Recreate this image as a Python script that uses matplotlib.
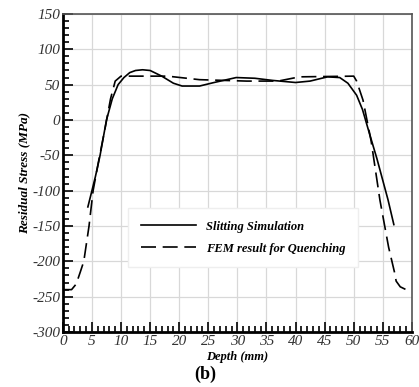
import matplotlib
matplotlib.use("Agg")
import matplotlib.pyplot as plt
from matplotlib.ticker import MultipleLocator

plt.rcParams["axes.unicode_minus"] = False

# Slitting simulation (solid)
slit_x = [4.3, 5.0, 5.6, 6.4, 7.5, 8.5, 9.5, 10.5, 11.5, 12.5, 13.7, 15.0, 17.0, 19.0,
          20.5, 23.5, 26.0, 29.8, 33.0, 36.0, 40.0, 42.5, 45.5, 47.6, 49.0, 50.5,
          51.5, 52.7, 54.0, 55.9, 56.9]
slit_y = [-123, -100, -80, -50, 0, 30, 50, 60, 67, 70, 71, 70, 62, 52,
          48, 48, 53, 60, 59, 56, 53, 55, 61, 60, 52, 35,
          15, -19, -55, -113, -148]

# FEM result for quenching (dashed)
fem_x = [0.0, 1.5, 2.3, 3.0, 3.6, 4.5, 5.2, 6.2, 7.3, 8.2, 9.0, 10.0, 18.0, 23.5,
         31.6, 37.0, 40.7, 50.0, 50.5, 51.6, 53.0, 54.5, 56.0, 57.0, 57.3, 58.0,
         59.0, 60.0]
fem_y = [-240, -240, -232, -215, -200, -150, -100, -56, -10, 30, 55, 62, 62, 57,
         55, 55, 61, 62, 55, 28, -30, -113, -180, -215, -228, -236,
         -240, -241]

serif = ["Liberation Serif", "DejaVu Serif"]

fig = plt.figure(figsize=(4.19, 3.87), dpi=100)
ax = fig.add_axes([0.150, 0.142, 0.833, 0.822])

ax.plot(slit_x, slit_y, color="black", lw=1.2, label="Slitting Simulation")
ax.plot(fem_x, fem_y, color="black", lw=1.2, ls=(0, (9, 4)), label="FEM result for Quenching")

ax.set_xlim(0, 60)
ax.set_ylim(-300, 150)
ax.xaxis.set_major_locator(MultipleLocator(5))
ax.xaxis.set_minor_locator(MultipleLocator(1))
ax.yaxis.set_major_locator(MultipleLocator(50))
ax.yaxis.set_minor_locator(MultipleLocator(10))
ax.grid(True, which="major", color="#d8d8d8", lw=0.9)
ax.set_axisbelow(True)

ax.tick_params(which="both", direction="in", top=False, right=False, width=1.2)
ax.tick_params(which="major", length=7, pad=2)
ax.tick_params(which="minor", length=4)
for s in ("left", "bottom"):
    ax.spines[s].set_linewidth(2.0)
for s in ("top", "right"):
    ax.spines[s].set_linewidth(1.2)
    ax.spines[s].set_color("#555555")

for lab in ax.get_xticklabels() + ax.get_yticklabels():
    lab.set_family(serif)
    lab.set_style("italic")
    lab.set_fontsize(11)
    lab.set_color("#333333")

ax.set_xlabel("Depth (mm)", family=serif, style="italic", weight="bold", fontsize=9, labelpad=2)
ax.set_ylabel("Residual Stress (MPa)", family=serif, style="italic", weight="bold", fontsize=9.5, labelpad=1)

leg = ax.legend(loc="center left", bbox_to_anchor=(0.17, 0.297), frameon=True, fancybox=False,
                handlelength=4.4, borderpad=1.0, labelspacing=0.8, handletextpad=0.8,
                prop={"family": serif, "style": "italic", "weight": "bold", "size": 9})
leg.get_frame().set_edgecolor("#eeeeee")
leg.get_frame().set_facecolor("white")
leg.get_frame().set_alpha(1)

fig.text(0.49, 0.02, "(b)", family=serif, weight="bold", fontsize=13, ha="center")

fig.savefig("out.png", dpi=100)
